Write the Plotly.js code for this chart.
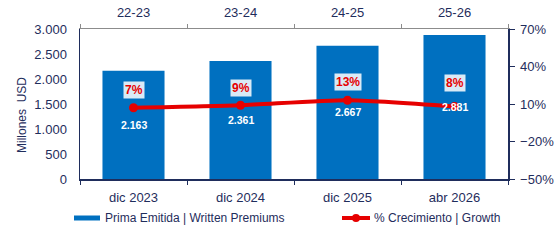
<!DOCTYPE html>
<html>
<head>
<meta charset="utf-8">
<script src="https://cdn.plot.ly/plotly-3.0.1.min.js"></script>
<style>
  html, body { margin: 0; padding: 0; background: #ffffff; }
  #chart { width: 559px; height: 247px; }
</style>
</head>
<body>
<div id="chart"></div>
<script>
// Written premiums (millions USD) by closing month, with year-on-year growth
const months   = ['dic 2023', 'dic 2024', 'dic 2025', 'abr 2026'];
const periods  = ['22-23', '23-24', '24-25', '25-26'];
const premiums = [2163, 2361, 2667, 2881];
const growth   = [7, 9, 13, 8];

const NAVY = '#1F2D5C';
const BLUE = '#0070C0';
const RED  = '#E60000';
const FONT = 'Arial, "Liberation Sans", sans-serif';

// plot box in pixels, used to place the hand-drawn legend and axis title
const W = 559, H = 247;
const M = { l: 80, r: 51, t: 29, b: 68 };
const PW = W - M.l - M.r, PH = H - M.t - M.b;
const xp = px => (px - M.l) / PW;
const yp = py => (H - M.b - py) / PH;

// per-label vertical lift of the growth labels above their points
const growthLabelLift = [18, 17, 18, 24];

const thousands = v => String(v).replace(/\B(?=(\d{3})+(?!\d))/g, '.');

const bars = {
  type: 'bar',
  x: months,
  y: premiums,
  xaxis: 'x', yaxis: 'y',
  marker: { color: BLUE },
  width: 0.58,
  hoverinfo: 'skip',
  showlegend: false
};

const line = {
  type: 'scatter',
  mode: 'lines+markers',
  x: periods,
  y: growth,
  xaxis: 'x2', yaxis: 'y2',
  line: { color: RED, width: 4, shape: 'spline', smoothing: 0.6 },
  marker: { color: RED, size: 9 },
  hoverinfo: 'skip',
  showlegend: false
};

const annotations = [];

// premium values, centred inside each bar
premiums.forEach((v, i) => {
  annotations.push({
    x: months[i], y: v / 2, xref: 'x', yref: 'y',
    text: '<b>' + thousands(v) + '</b>',
    showarrow: false,
    font: { family: FONT, size: 10.5, color: '#ffffff' }
  });
});

// growth percentages above the line, on a soft white plate
growth.forEach((g, i) => {
  annotations.push({
    x: periods[i], y: g, xref: 'x2', yref: 'y2',
    yshift: growthLabelLift[i],
    text: '<b>' + g + '%</b>',
    showarrow: false,
    bgcolor: 'rgba(255,255,255,0.85)',
    borderpad: 1,
    font: { family: FONT, size: 12, color: RED }
  });
});

// left axis title
annotations.push({
  x: xp(22), y: yp(115), xref: 'paper', yref: 'paper',
  xanchor: 'center', yanchor: 'middle',
  text: 'Millones&nbsp;&nbsp;USD', textangle: -90, showarrow: false,
  font: { family: FONT, size: 12, color: NAVY }
});

// legend entries
annotations.push({
  x: xp(103), y: yp(218), xref: 'paper', yref: 'paper',
  xanchor: 'left', yanchor: 'middle',
  text: 'Prima Emitida | Written Premiums', showarrow: false,
  font: { family: FONT, size: 12, color: NAVY }
});
annotations.push({
  x: xp(372), y: yp(218), xref: 'paper', yref: 'paper',
  xanchor: 'left', yanchor: 'middle',
  text: '% Crecimiento | Growth', showarrow: false,
  font: { family: FONT, size: 12, color: NAVY }
});

const shapes = [
  { type: 'rect', xref: 'paper', yref: 'paper',
    x0: xp(74), x1: xp(100), y0: yp(215.5), y1: yp(220.5),
    fillcolor: BLUE, line: { width: 0 } },
  { type: 'line', xref: 'paper', yref: 'paper',
    x0: xp(342), x1: xp(370), y0: yp(218), y1: yp(218),
    line: { color: RED, width: 4 } },
  { type: 'circle', xref: 'paper', yref: 'paper',
    x0: xp(352), x1: xp(360), y0: yp(222), y1: yp(214),
    fillcolor: RED, line: { width: 0 } }
];

const tickFont = { family: FONT, size: 13, color: NAVY };

const layout = {
  width: W, height: H,
  margin: M,
  paper_bgcolor: '#ffffff',
  plot_bgcolor: '#ffffff',
  separators: ',.',
  showlegend: false,
  xaxis: {
    type: 'category',
    categoryarray: months,
    range: [-0.5, 3.5],
    showline: true, linecolor: NAVY, linewidth: 1.5,
    ticks: 'outside', tickson: 'boundaries', ticklen: 4, tickcolor: NAVY,
    ticklabelstandoff: 6,
    tickfont: tickFont,
    showgrid: false, zeroline: false, fixedrange: true
  },
  xaxis2: {
    type: 'category',
    categoryarray: periods,
    range: [-0.5, 3.5],
    overlaying: 'x', side: 'top',
    showline: true, linecolor: '#8C8C8C', linewidth: 1,
    ticks: 'outside', tickson: 'boundaries', ticklen: 4, tickcolor: '#8C8C8C',
    ticklabelstandoff: 6,
    tickfont: tickFont,
    showgrid: false, zeroline: false, fixedrange: true
  },
  yaxis: {
    range: [0, 3000], dtick: 500, tickformat: ',d',
    showline: true, linecolor: NAVY, linewidth: 1.5,
    ticks: 'outside', ticklen: 9, tickcolor: 'rgba(0,0,0,0)',
    tickfont: tickFont,
    showgrid: false, zeroline: false, fixedrange: true
  },
  yaxis2: {
    range: [-50, 70], tick0: 10, dtick: 30, ticksuffix: '%',
    overlaying: 'y', side: 'right',
    showline: true, linecolor: NAVY, linewidth: 1.5,
    ticks: 'outside', ticklen: 5, tickcolor: NAVY,
    ticklabelstandoff: 3,
    tickfont: tickFont,
    showgrid: false, zeroline: false, fixedrange: true
  },
  annotations: annotations,
  shapes: shapes
};

Plotly.newPlot('chart', [bars, line], layout, { displayModeBar: false, staticPlot: true });
</script>
</body>
</html>
